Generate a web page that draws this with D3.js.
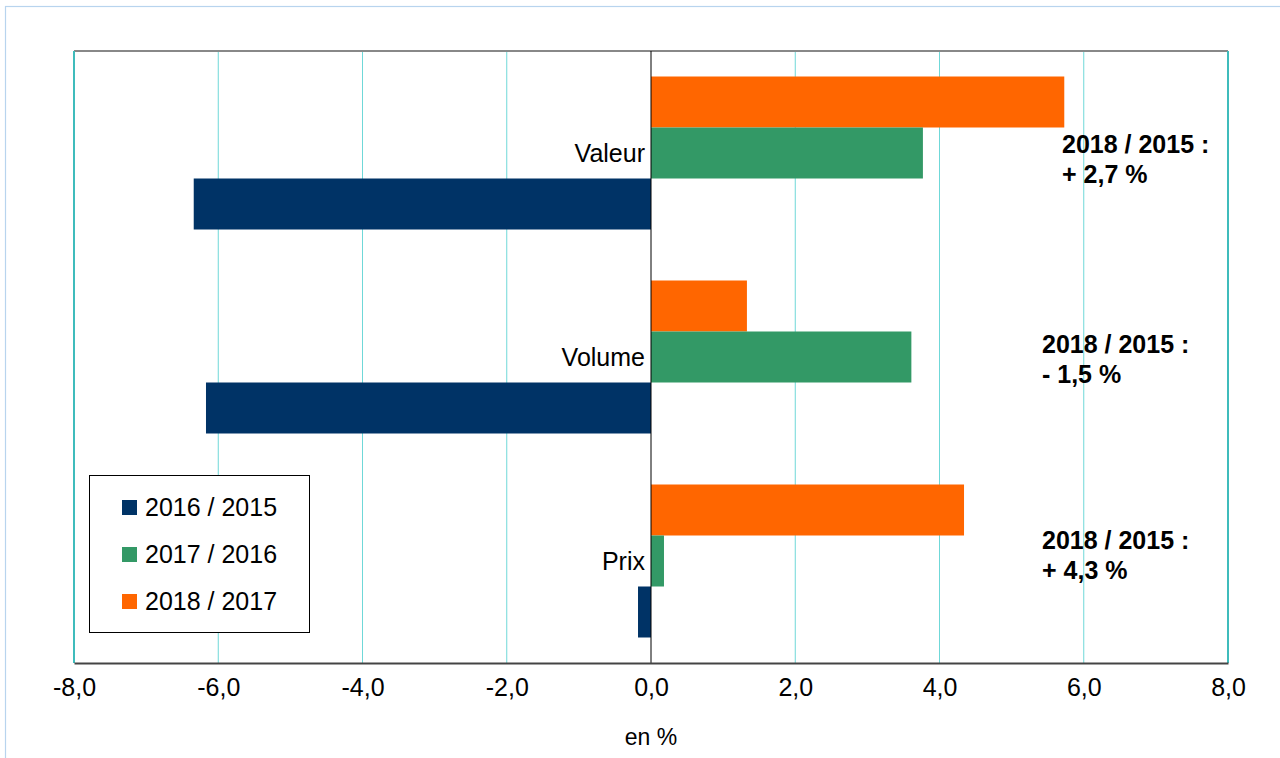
<!DOCTYPE html>
<html>
<head>
<meta charset="utf-8">
<script src="https://cdn.jsdelivr.net/npm/d3@7"></script>
<style>
  html, body { margin: 0; padding: 0; background: #fff; }
  svg { display: block; font-family: "Liberation Sans", Arial, sans-serif; }
</style>
</head>
<body>
<svg id="chart" width="1280" height="758"></svg>
<script>
// Categories, top to bottom
const categories = ["Valeur", "Volume", "Prix"];
// Series (annual change, %)
const seriesNames = ["2018 / 2017", "2017 / 2016", "2016 / 2015"];
const values2018_2017 = [5.73, 1.33, 4.34];
const values2017_2016 = [3.77, 3.61, 0.18];
const values2016_2015 = [-6.34, -6.17, -0.18];
const seriesColors = ["#ff6600", "#339966", "#003366"];
// Cumulative change labels
const cumulLabels = [["2018 / 2015 :", "+ 2,7 %"], ["2018 / 2015 :", "- 1,5 %"], ["2018 / 2015 :", "+ 4,3 %"]];
const legendOrder = ["2016 / 2015", "2017 / 2016", "2018 / 2017"];
const xTicks = [-8, -6, -4, -2, 0, 2, 4, 6, 8];

const series = [values2018_2017, values2017_2016, values2016_2015];
const svg = d3.select("#chart");

// outer frame
svg.append("rect").attr("x", 5.5).attr("y", 6.5).attr("width", 1290).attr("height", 760)
  .attr("fill", "none").attr("stroke", "#b8d4ee").attr("stroke-width", 1.2);

const plot = { left: 74, right: 1228, top: 51, bottom: 663 };

const x = d3.scaleLinear().domain([-8, 8]).range([plot.left, plot.right]);
const y = d3.scaleBand().domain(categories).range([plot.top, plot.bottom]).paddingInner(0.25).paddingOuter(0.125);
const ySub = d3.scaleBand().domain(d3.range(seriesNames.length)).range([0, y.bandwidth()]);

// vertical gridlines
svg.append("g").selectAll("line").data(xTicks.filter(t => t !== 0 && t !== -8 && t !== 8)).join("line")
  .attr("x1", d => x(d)).attr("x2", d => x(d))
  .attr("y1", plot.top).attr("y2", plot.bottom)
  .attr("stroke", "#6fd8d8").attr("stroke-width", 1);

// plot border: grey top, teal sides
svg.append("line").attr("x1", plot.left).attr("x2", plot.right).attr("y1", plot.top).attr("y2", plot.top)
  .attr("stroke", "#888").attr("stroke-width", 2);
svg.append("line").attr("x1", plot.left).attr("x2", plot.left).attr("y1", plot.top).attr("y2", plot.bottom)
  .attr("stroke", "#3fbcbc").attr("stroke-width", 2);
svg.append("line").attr("x1", plot.right).attr("x2", plot.right).attr("y1", plot.top).attr("y2", plot.bottom)
  .attr("stroke", "#3fbcbc").attr("stroke-width", 2);

// bars
series.forEach((vals, si) => {
  svg.append("g").selectAll("rect").data(vals).join("rect")
    .attr("x", d => x(Math.min(0, d)))
    .attr("width", d => Math.abs(x(d) - x(0)))
    .attr("y", (d, i) => y(categories[i]) + ySub(si))
    .attr("height", ySub.bandwidth())
    .attr("fill", seriesColors[si]);
});

// zero line
svg.append("line").attr("x1", x(0)).attr("x2", x(0)).attr("y1", plot.top).attr("y2", plot.bottom)
  .attr("stroke", "#000").attr("stroke-width", 1);

// category labels
svg.append("g").selectAll("text").data(categories).join("text")
  .attr("x", x(0) - 6).attr("y", d => y(d) + y.bandwidth() / 2)
  .attr("text-anchor", "end").attr("dominant-baseline", "central")
  .attr("font-size", 25).attr("fill", "#000").text(d => d);

// x axis
const xAxis = d3.axisBottom(x).tickValues(xTicks).tickSize(0).tickPadding(15)
  .tickFormat(d => d3.format(".1f")(d).replace(".", ",").replace("−", "-"));
const gx = svg.append("g").attr("transform", `translate(0,${plot.bottom})`).call(xAxis);
gx.select(".domain").attr("stroke", "#444").attr("stroke-width", 2);
gx.selectAll("text").attr("font-size", 25).attr("fill", "#000")
  .attr("font-family", "'Liberation Sans', Arial, sans-serif");

svg.append("text").attr("x", x(0)).attr("y", 745).attr("text-anchor", "middle")
  .attr("font-size", 23).attr("fill", "#000").text("en %");

// cumulative annotations
const annX = [1062, 1042, 1042];
const annY = [153, 353, 549];
cumulLabels.forEach((lines, i) => {
  const t = svg.append("text").attr("x", annX[i]).attr("y", annY[i])
    .attr("font-size", 25).attr("font-weight", "bold").attr("fill", "#000");
  lines.forEach((l, j) => t.append("tspan").attr("x", annX[i]).attr("dy", j === 0 ? 0 : 30).text(l));
});

// legend
const lg = svg.append("g");
lg.append("rect").attr("x", 89.5).attr("y", 475.5).attr("width", 220).attr("height", 157)
  .attr("fill", "#fff").attr("stroke", "#000").attr("stroke-width", 1);
const legendColor = { "2016 / 2015": seriesColors[2], "2017 / 2016": seriesColors[1], "2018 / 2017": seriesColors[0] };
legendOrder.forEach((name, i) => {
  const cy = 507 + i * 47;
  lg.append("rect").attr("x", 122).attr("y", cy - 7).attr("width", 15).attr("height", 15).attr("fill", legendColor[name]);
  lg.append("text").attr("x", 145).attr("y", cy).attr("dominant-baseline", "central")
    .attr("font-size", 25).attr("fill", "#000").text(name);
});
</script>
</body>
</html>
